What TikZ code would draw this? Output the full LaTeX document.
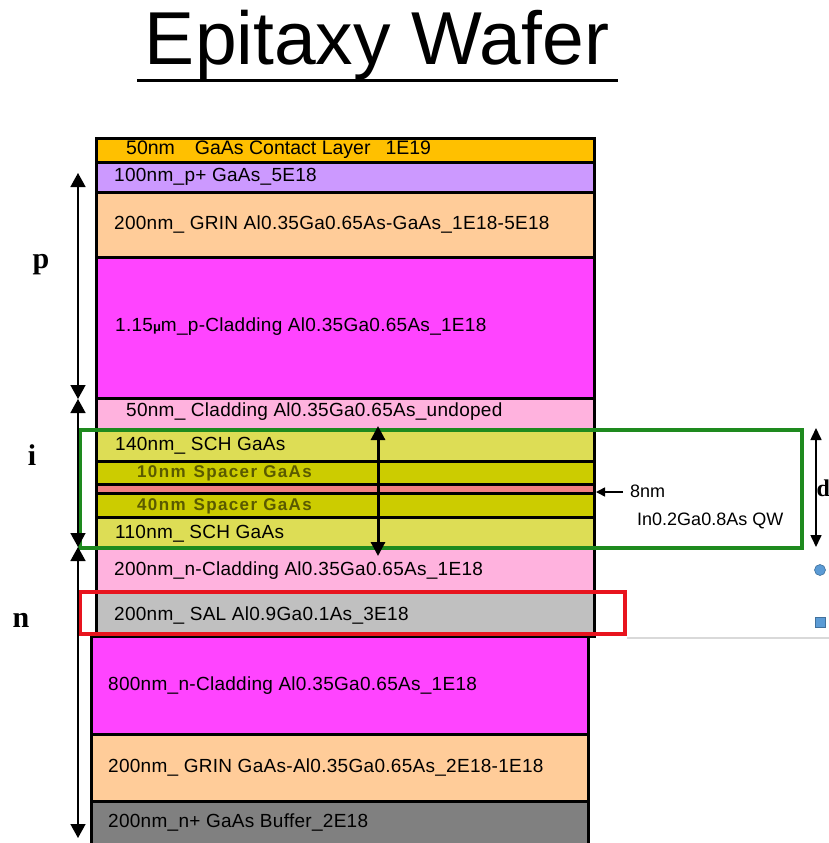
\documentclass[tikz,border=0pt]{standalone}
\usepackage{fontspec}
\setmainfont{Liberation Sans}
\newfontfamily\serifbf{Liberation Serif}
\usetikzlibrary{arrows.meta}
\definecolor{cContact}{HTML}{FFC000}
\definecolor{cPurple}{HTML}{CC99FF}
\definecolor{cPeach}{HTML}{FFCC99}
\definecolor{cMagenta}{HTML}{FF44FF}
\definecolor{cPink}{HTML}{FFB2DE}
\definecolor{cSCH}{HTML}{DDDD55}
\definecolor{cSpacer}{HTML}{CCCC00}
\definecolor{cQW}{HTML}{F08080}
\definecolor{cSAL}{HTML}{C0C0C0}
\definecolor{cBuffer}{HTML}{808080}
\definecolor{cGreen}{HTML}{1E8A1E}
\definecolor{cRed}{HTML}{E8141E}
\definecolor{cOlive}{HTML}{5A5A00}
\definecolor{cBlue}{HTML}{5B9BD5}
\definecolor{cBlueD}{HTML}{41719C}
\begin{document}
\begin{tikzpicture}[x=1pt,y=-1pt,
  layer/.style={draw=black, line width=3pt},
  lbl/.style={anchor=west, inner sep=0pt, font=\fontsize{19}{19}\selectfont\addfontfeature{LetterSpace=1.5}},
  spc/.style={anchor=west, inner sep=0pt, text=cOlive, font=\fontsize{17}{17}\selectfont\bfseries\addfontfeature{LetterSpace=8}},
  side/.style={inner sep=0pt, font=\fontsize{30}{30}\selectfont\serifbf\bfseries},
  dim/.style={line width=1.6pt, {Triangle[length=14pt,width=15pt]}-{Triangle[length=14pt,width=15pt]}},
  box/.style={line width=4pt}]
\useasboundingbox (0,0) rectangle (829,843);

% title
\node[anchor=base, inner sep=0pt, font=\fontsize{75}{75}\selectfont] (title) at (377,65) {Epitaxy Wafer};
\coordinate (ulA) at (137,80);
\coordinate (ulB) at (618,80);
\draw[line width=3pt] (ulA) -- (ulB);

% layers (upper stack)
\path[layer, fill=cContact] (96,138) rectangle (594,162);
\path[layer, fill=cPurple]  (96,162) rectangle (594,192);
\path[layer, fill=cPeach]   (96,192) rectangle (594,257);
\path[layer, fill=cMagenta] (96,257) rectangle (594,398);
\path[layer, fill=cPink]    (96,398) rectangle (594,429);
\path[layer, fill=cSCH]     (96,429) rectangle (594,461);
\path[layer, fill=cSpacer]  (96,461) rectangle (594,484);
\path[layer, fill=cQW]      (96,484) rectangle (594,493);
\path[layer, fill=cSpacer]  (96,493) rectangle (594,517);
\path[layer, fill=cSCH]     (96,517) rectangle (594,548);
\path[layer, fill=cPink]    (96,548) rectangle (594,592);
\path[layer, fill=cSAL]     (96,592) rectangle (594,636);
% lower stack
\path[layer, fill=cMagenta] (91,636) rectangle (588,734);
\path[layer, fill=cPeach]   (91,734) rectangle (588,801);
\path[layer, fill=cBuffer]  (91,801) rectangle (588,848);

% labels
\node[lbl, font=\fontsize{19.5}{19.5}\selectfont] (tContact) at (126,150) {50nm\hspace{20pt}GaAs Contact Layer\hspace{15pt}1E19};
\node[lbl] (tPplus) at (114,177) {100nm\_p+ GaAs\_5E18};
\node[lbl] (tGrinP) at (114,225) {200nm\_ GRIN Al0.35Ga0.65As-GaAs\_1E18-5E18};
\node[lbl] (tCladP) at (115,327) {1.15{\fontsize{13}{13}\selectfont\bfseries μ}m\_p-Cladding Al0.35Ga0.65As\_1E18};
\node[lbl] (tUndoped) at (126,412) {50nm\_ Cladding Al0.35Ga0.65As\_undoped};
\node[lbl] (tSCH1) at (115,446) {140nm\_ SCH GaAs};
\node[spc] (tSp1) at (137,473) {10nm\hspace{8pt}Spacer GaAs};
\node[spc] (tSp2) at (137,506) {40nm\hspace{8pt}Spacer GaAs};
\node[lbl] (tSCH2) at (115,534) {110nm\_ SCH GaAs};
\node[lbl] (tCladN) at (114,571) {200nm\_n-Cladding Al0.35Ga0.65As\_1E18};
\node[lbl] (tSAL) at (114,615) {200nm\_ SAL Al0.9Ga0.1As\_3E18};
\node[lbl] (tCladN2) at (108,686) {800nm\_n-Cladding Al0.35Ga0.65As\_1E18};
\node[lbl] (tGrinN) at (108,767) {200nm\_ GRIN GaAs-Al0.35Ga0.65As\_2E18-1E18};
\node[lbl] (tBuf) at (108,823) {200nm\_n+ GaAs Buffer\_2E18};

% highlight boxes
\coordinate (gA) at (80,430);
\coordinate (gB) at (802,548);
\draw[box, cGreen] (gA) rectangle (gB);
\coordinate (rA) at (80,592);
\coordinate (rB) at (625,634);
\draw[box, cRed] (rA) rectangle (rB);
\coordinate (fA) at (627,638);
\coordinate (fB) at (829,638);
\draw[line width=1.2pt, gray!30] (fA) -- (fB);

% central arrow
\coordinate (mT) at (378,426);
\coordinate (mB) at (378,556);
\draw[line width=3pt, {Triangle[length=14pt,width=14pt]}-{Triangle[length=14pt,width=14pt]}] (mT) -- (mB);

% QW annotation
\coordinate (qT) at (623,492);
\coordinate (qH) at (596,492);
\draw[line width=1.6pt, -{Triangle[length=9pt,width=9pt]}] (qT) -- (qH);
\node[lbl, font=\fontsize{18}{18}\selectfont] (t8) at (630,491) {8nm};
\node[lbl, font=\fontsize{18}{18}\selectfont] (tQW) at (637,521) {In0.2Ga0.8As QW};

% d
\coordinate (dT) at (816,428);
\coordinate (dB) at (816,547);
\draw[line width=1.6pt, {Triangle[length=12pt,width=11pt]}-{Triangle[length=12pt,width=11pt]}] (dT) -- (dB);
\node[side, anchor=west, font=\fontsize{24}{24}\selectfont\serifbf\bfseries] (td) at (816.5,488) {d};

% markers
\node[circle, minimum size=11pt, inner sep=0pt, fill=cBlue, draw=cBlueD, line width=0.6pt] (dot) at (820,570) {};
\node[rectangle, minimum size=10pt, inner sep=0pt, fill=cBlue, draw=cBlueD, line width=0.6pt] (sq) at (820,622) {};

% p, i, n
\coordinate (p1) at (78,173);
\coordinate (p2) at (78,399);
\coordinate (i1) at (78,399);
\coordinate (i2) at (78,547);
\coordinate (n1) at (78,547);
\coordinate (n2) at (78,838);
\draw[dim] (p1) -- (p2);
\draw[dim] (i1) -- (i2);
\draw[dim] (n1) -- (n2);
\node[side] (tp) at (41,265) {p};
\node[side] (ti) at (32,455) {i};
\node[side] (tn) at (21,620) {n};
\end{tikzpicture}
\end{document}
